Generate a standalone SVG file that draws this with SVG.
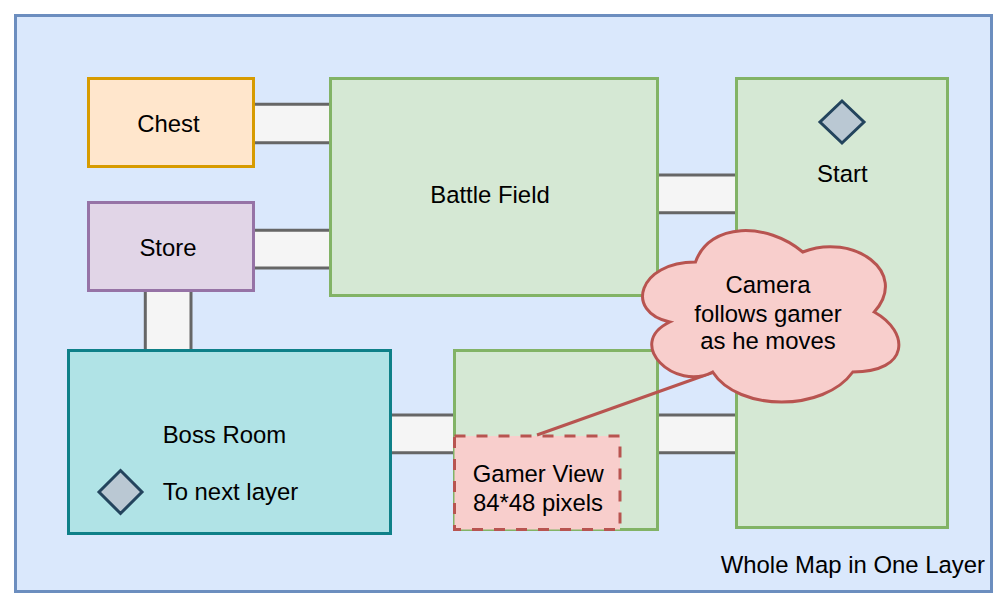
<svg xmlns="http://www.w3.org/2000/svg" width="1007" height="607" viewBox="0 0 1007 607">
<style>
text{font-family:"Liberation Sans",Arial,sans-serif;font-size:23.9px;fill:#000}
.c{text-anchor:middle}
.room{fill:#d5e8d4;stroke:#82b366;stroke-width:3}
.cf{fill:#f5f5f5;stroke:none}
.cl{stroke:#666666;stroke-width:3;fill:none}
.dia{fill:#bac8d3;stroke:#23445d;stroke-width:3}
</style>
<rect width="1007" height="607" fill="#ffffff"/>
<g id="frame">
<rect x="15.5" y="15.5" width="976" height="576" fill="#dae8fc" stroke="#6c8ebf" stroke-width="3"/>
<text x="985" y="573" text-anchor="end">Whole Map in One Layer</text>
</g>
<g id="connectors">
<rect class="cf" x="255" y="104" width="74" height="39"/>
<path class="cl" d="M255 104.3H329M255 142.7H329"/>
<rect class="cf" x="255" y="230" width="74" height="38"/>
<path class="cl" d="M255 230.3H329M255 268H329"/>
<rect class="cf" x="659" y="175" width="76" height="38"/>
<path class="cl" d="M659 175H735M659 212.7H735"/>
<rect class="cf" x="145" y="292" width="46" height="57"/>
<path class="cl" d="M145.3 292V349M191 292V349"/>
<rect class="cf" x="392" y="415" width="61" height="38"/>
<path class="cl" d="M392 415H453M392 452.7H453"/>
<rect class="cf" x="659" y="415" width="76" height="38"/>
<path class="cl" d="M659 415H735M659 452.7H735"/>
</g>
<g id="chest">
<rect x="88.5" y="78.5" width="165" height="88" fill="#ffe6cc" stroke="#d79b00" stroke-width="3"/>
<text class="c" x="168.5" y="132">Chest</text>
</g>
<g id="store">
<rect x="88.5" y="202.5" width="165" height="88" fill="#e1d5e7" stroke="#9673a6" stroke-width="3"/>
<text class="c" x="168" y="256">Store</text>
</g>
<g id="battle-field">
<rect class="room" x="330.5" y="78.5" width="327" height="217"/>
<text class="c" x="490" y="203">Battle Field</text>
</g>
<g id="start">
<rect class="room" x="736.5" y="78.5" width="211" height="449"/>
<path class="dia" d="M842 101L864 122L842 143L820 122Z"/>
<text class="c" x="842.3" y="181.5">Start</text>
</g>
<g id="boss-room">
<rect x="68.5" y="350.5" width="322" height="183" fill="#b0e3e6" stroke="#0e8088" stroke-width="3"/>
<path class="dia" d="M120.5 470.5L142 492L120.5 513.5L99 492Z"/>
<text x="162.7" y="443.3">Boss Room</text>
<text x="162.7" y="499.5">To next layer</text>
</g>
<g id="room">
<rect class="room" x="454.5" y="350.5" width="203" height="179"/>
</g>
<g id="gamer-view">
<rect x="454.5" y="436" width="165.5" height="93.5" fill="#f8cecc" stroke="#b85450" stroke-width="3" stroke-dasharray="11 11"/>
<text class="c" x="538.3" y="481.7">Gamer View</text>
<text class="c" x="538" y="511">84*48 pixels</text>
</g>
<g id="callout-line">
<path d="M537 435L712.5 372.5" stroke="#b85450" stroke-width="3" fill="none"/>
</g>
<g id="camera-cloud">
<path d="M695.5 262C638.3 262 624 312 669.76 322C624 344 675.48 392 712.66 372C738.4 412 824.2 412 852.8 372C910 372 910 332 874.25 312C910 272 852.8 232 802.75 252C767 222 709.8 222 695.5 262Z" fill="#f8cecc" stroke="#b85450" stroke-width="3"/>
<text class="c" x="768" y="293.3">Camera</text>
<text class="c" x="768" y="321.7">follows gamer</text>
<text class="c" x="768" y="349.3">as he moves</text>
</g>
</svg>
